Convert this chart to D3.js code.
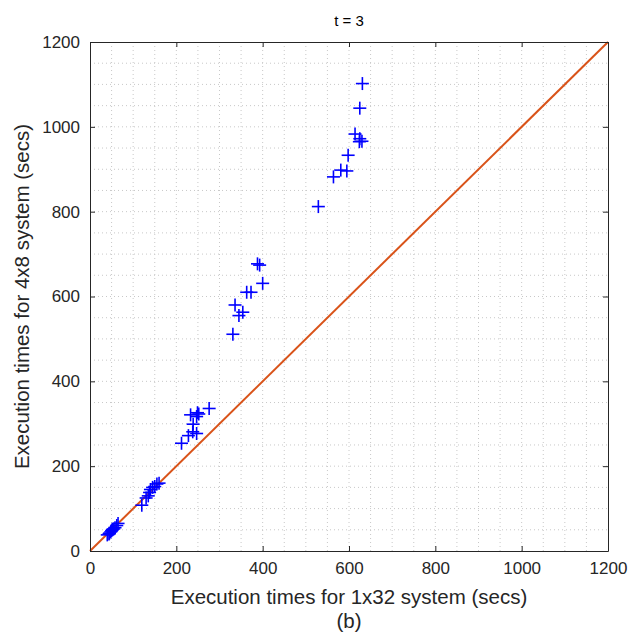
<!DOCTYPE html>
<html><head><meta charset="utf-8">
<script src="https://cdn.jsdelivr.net/npm/d3@7"></script>
<style>body{margin:0;background:#fff}svg{display:block}</style>
</head><body><svg id="c" width="643" height="637"></svg>
<script>
const xVals = [631,625,614,625,630,624,598,581,595,564,529,
  388,393,400,363,373,336,354,345,331,
  276,233,249,247,252,239,238,247,228,212,
  120,130,135,138,140,145,150,155,160,
  40,44,45,48,50,52,55,58,62,65];
const yVals = [1102,1044,983,972,966,965,933,898,896,882,812,
  677,674,631,610,610,580,563,555,511,
  336,321,326,317,323,299,281,277,272,254,
  108,125,130,138,145,150,152,158,160,
  38,40,42,45,48,50,52,55,60,65];
const ticks = [0,200,400,600,800,1000,1200];
const refLine = [0,1200];
const W=643,H=637, L=90,R=608,T=42,B=551;
const svg=d3.select("#c");
const x=d3.scaleLinear().domain([0,1200]).range([L,R]);
const y=d3.scaleLinear().domain([0,1200]).range([B,T]);
const grid=d3.range(50,1200,50);
const g=svg.append("g");
g.selectAll("line.gx").data(grid).join("line").attr("x1",d=>x(d)).attr("x2",d=>x(d)).attr("y1",T).attr("y2",B)
 .attr("stroke","#c8c8c8").attr("stroke-width",1).attr("stroke-dasharray","1,3");
g.selectAll("line.gy").data(grid).join("line").attr("y1",d=>y(d)).attr("y2",d=>y(d)).attr("x1",L).attr("x2",R)
 .attr("stroke","#c8c8c8").attr("stroke-width",1).attr("stroke-dasharray","1,3");
svg.append("line").attr("x1",x(refLine[0])).attr("y1",y(refLine[0])).attr("x2",x(refLine[1])).attr("y2",y(refLine[1]))
 .attr("stroke","#D95319").attr("stroke-width",2);
const s=6.5;
const pts=svg.append("g").attr("stroke","#0000ff").attr("stroke-width",1.6);
xVals.forEach((v,i)=>{
  const px=x(v),py=y(yVals[i]);
  pts.append("line").attr("x1",px-s).attr("x2",px+s).attr("y1",py).attr("y2",py);
  pts.append("line").attr("x1",px).attr("x2",px).attr("y1",py-s).attr("y2",py+s);
});
const fnt="'Liberation Sans', Arial, sans-serif";
const fmt=d3.format("d");
const ax=(gen,tr)=>svg.append("g").attr("transform",tr).call(gen);
const xb=ax(d3.axisBottom(x).tickValues(ticks).tickSizeInner(-5).tickSizeOuter(0).tickPadding(11).tickFormat(fmt),`translate(0,${B})`);
const xt=ax(d3.axisTop(x).tickValues(ticks).tickSizeInner(-5).tickSizeOuter(0).tickFormat(""),`translate(0,${T})`);
const yl=ax(d3.axisLeft(y).tickValues(ticks).tickSizeInner(-5).tickSizeOuter(0).tickPadding(10).tickFormat(fmt),`translate(${L},0)`);
const yr=ax(d3.axisRight(y).tickValues(ticks).tickSizeInner(-5).tickSizeOuter(0).tickFormat(""),`translate(${R},0)`);
[xb,xt,yl,yr].forEach(a=>{a.selectAll("path,line").attr("stroke","#262626").attr("stroke-width",1);
 a.selectAll("text").attr("fill","#262626").style("font-family",fnt).style("font-size","17px");});
svg.append("text").attr("x",(L+R)/2).attr("y",26).attr("text-anchor","middle").style("font-family",fnt).style("font-size","15px").attr("fill","#000").text("t = 3");
svg.append("text").attr("x",(L+R)/2).attr("y",604).attr("text-anchor","middle").style("font-family",fnt).style("font-size","20.5px").attr("fill","#262626").text("Execution times for 1x32 system (secs)");
svg.append("text").attr("x",(L+R)/2).attr("y",628).attr("text-anchor","middle").style("font-family",fnt).style("font-size","20.5px").attr("fill","#262626").text("(b)");
svg.append("text").attr("transform",`translate(29,${(T+B)/2}) rotate(-90)`).attr("text-anchor","middle").style("font-family",fnt).style("font-size","20.5px").attr("fill","#262626").text("Execution times for 4x8 system (secs)");
</script></body></html>
